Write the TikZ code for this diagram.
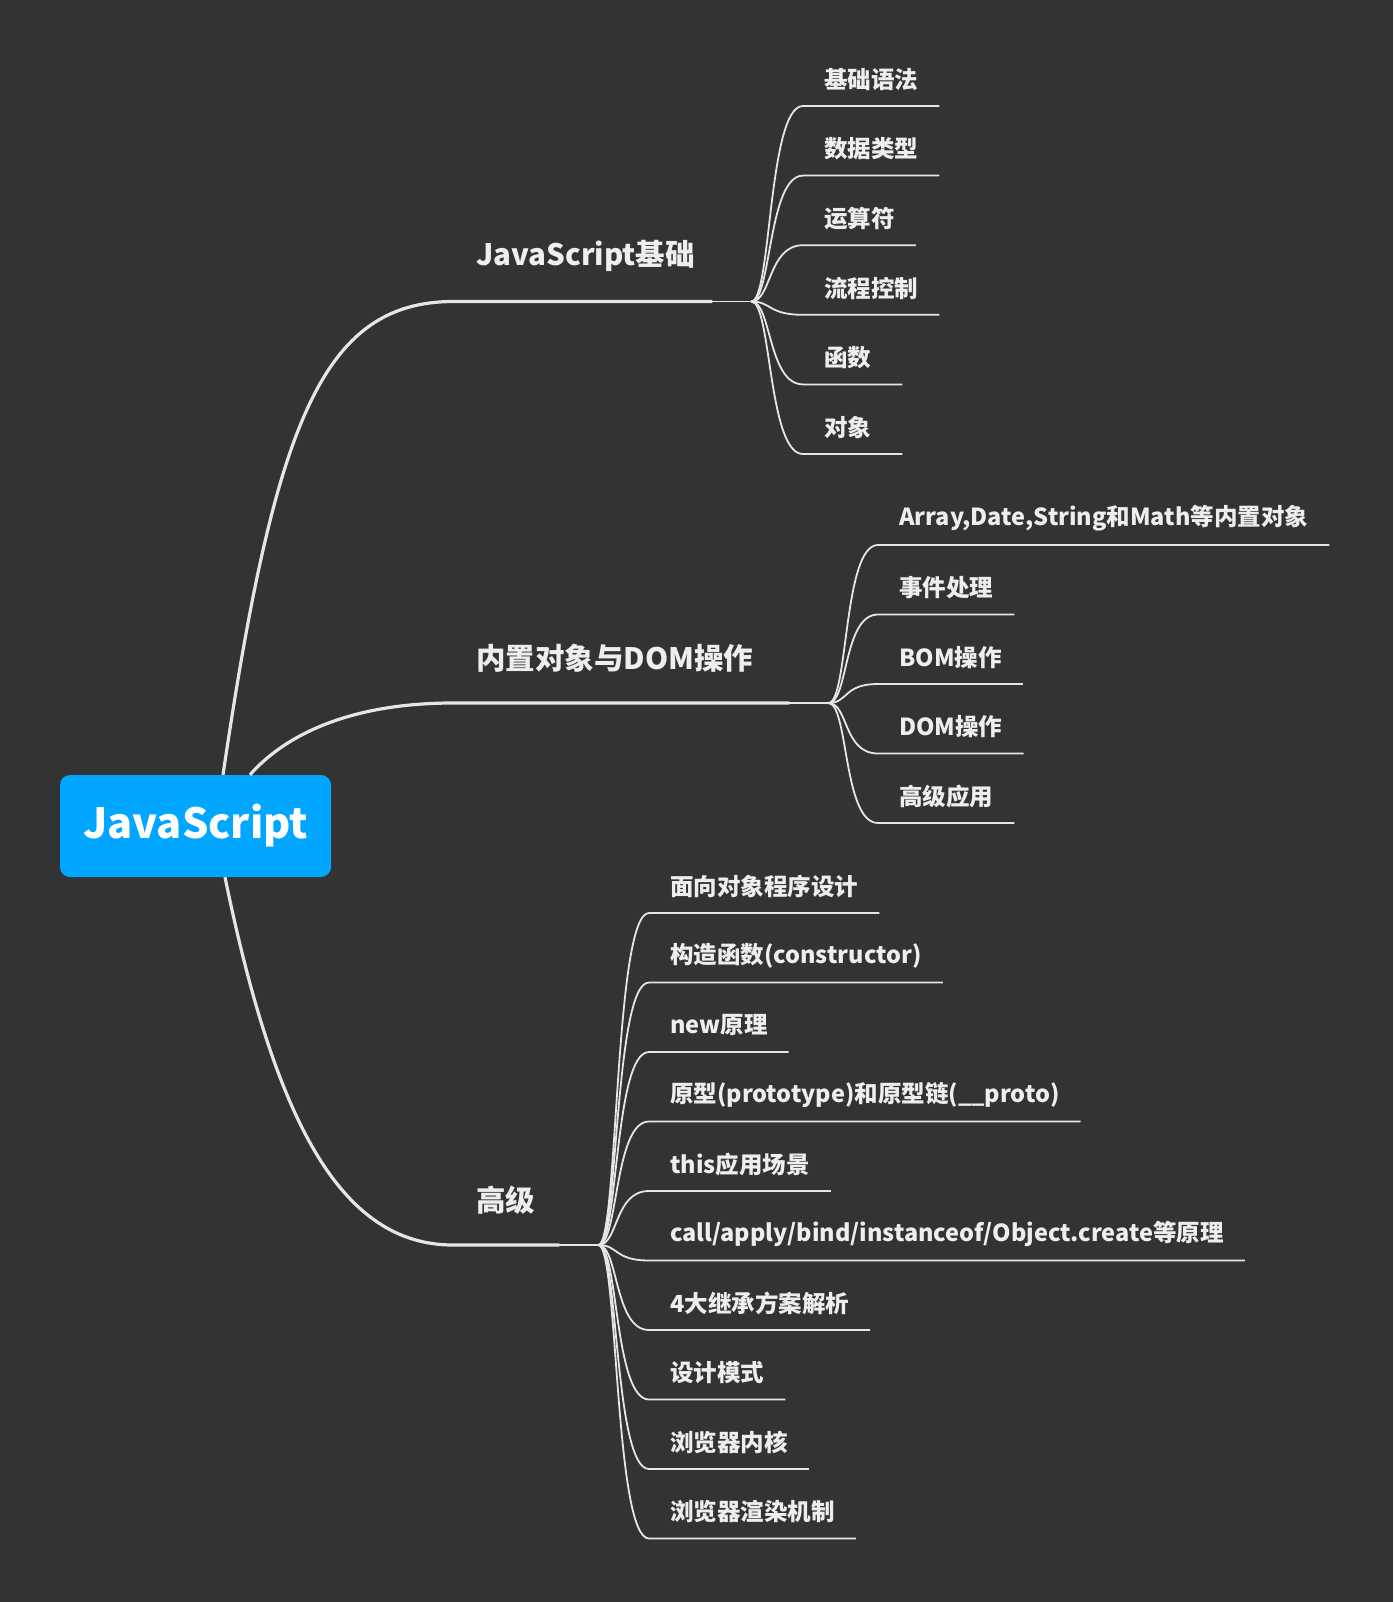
\documentclass[tikz,border=0pt]{standalone}
\usepackage{fontspec}
\setmainfont{Noto Sans CJK SC}
\usetikzlibrary{positioning}

\definecolor{bgcol}{HTML}{333333}
\definecolor{rootcol}{HTML}{00A6FF}
\definecolor{linecol}{HTML}{E6E6E6}
\definecolor{txtcol}{HTML}{EEEEEE}

% short leaf texts still get a line of some length
\newcommand\leaftext[1]{\setbox0\hbox{#1}\ifdim\wd0<57pt \makebox[57pt][l]{#1}\else #1\fi}

\tikzset{
  rootbox/.style={fill=rootcol, rounded corners=10pt, minimum width=271pt, minimum height=102pt,
    text=white, font=\bfseries\fontsize{41.5}{48}\selectfont},
  mainlabel/.style={anchor=south west, inner xsep=23pt, inner ysep=0pt, minimum height=90pt,
    align=left, text=txtcol, font=\bfseries\fontsize{29.5}{35}\selectfont},
  leaf/.style={anchor=south west, inner xsep=21pt, inner ysep=0pt, minimum height=53pt,
    text=txtcol, font=\bfseries\fontsize{23.5}{28}\selectfont},
  mainline/.style={draw=linecol, line width=3.2pt},
  thinline/.style={draw=linecol, line width=1.8pt},
}

\begin{document}
\begin{tikzpicture}[x=1pt, y=-1pt]
        % Background
        \fill[bgcol] (0,0) rectangle (1393,1602);
        \useasboundingbox (0,0) rectangle (1393,1602);

        % Main topics
        \node[mainlabel, text width=213pt] (base) at (453,301.5) {JavaScript基础};
        \node[mainlabel, text width=290pt] (dom) at (453,703) {内置对象与DOM操作};
        \node[mainlabel, text width=60pt] (adv) at (453,1245) {高级};

        \node[rootbox] (root) at (195.5,826) {JavaScript};

        \coordinate[right=39pt of base.south east] (fb);
        \coordinate[right=39pt of dom.south east] (fd);
        \coordinate[right=39pt of adv.south east] (fa);

        % Root to main topics
        \draw[mainline] ([xshift=27.5pt]root.north) .. controls (275,423) and (322,302) .. (base.south west) -- (base.south east);
        \draw[mainline] ([xshift=54.5pt]root.north) .. controls (285,735) and (350,703) .. (dom.south west) -- (dom.south east);
        \draw[mainline] ([xshift=29.5pt]root.south) .. controls (275,1120) and (340,1245) .. (adv.south west) -- (adv.south east);
        \draw[thinline] (base.south east) -- (fb);
        \draw[thinline] (dom.south east) -- (fd);
        \draw[thinline] (adv.south east) -- (fa);

        % JavaScript基础
        \foreach \i/\y/\txt in {1/106/基础语法, 2/175.6/数据类型, 3/245.2/运算符, 4/314.8/流程控制, 5/384.4/函数, 6/454/对象}{
        \node[leaf] (b\i) at (803,\y) {\leaftext{\txt}};
        \draw[thinline] (fb) .. controls +(20,0) and +(-35,0) .. (b\i.south west) -- (b\i.south east);
        }

        % 内置对象与DOM操作
        \foreach \i/\y/\txt in {1/545/{Array,Date,String和Math等内置对象}, 2/614.5/事件处理, 3/684/BOM操作, 4/753.5/DOM操作, 5/823/高级应用}{
        \node[leaf] (d\i) at (878,\y) {\leaftext{\txt}};
        \draw[thinline] (fd) .. controls +(20,0) and +(-35,0) .. (d\i.south west) -- (d\i.south east);
        }

        % 高级
        \foreach \i/\y/\txt in {1/913/面向对象程序设计, 2/982.5/构造函数(constructor), 3/1052/new原理,
          4/1121.5/原型(prototype)和原型链(\_\_proto), 5/1191/this应用场景,
          6/1260.5/{call/apply/bind/instanceof/Object.create等原理}, 7/1330/4大继承方案解析,
          8/1399.5/设计模式, 9/1469/浏览器内核, 10/1538.5/浏览器渲染机制}{
        \node[leaf] (a\i) at (649,\y) {\leaftext{\txt}};
        \draw[thinline] (fa) .. controls +(20,0) and +(-35,0) .. (a\i.south west) -- (a\i.south east);
        }
\end{tikzpicture}
\end{document}
